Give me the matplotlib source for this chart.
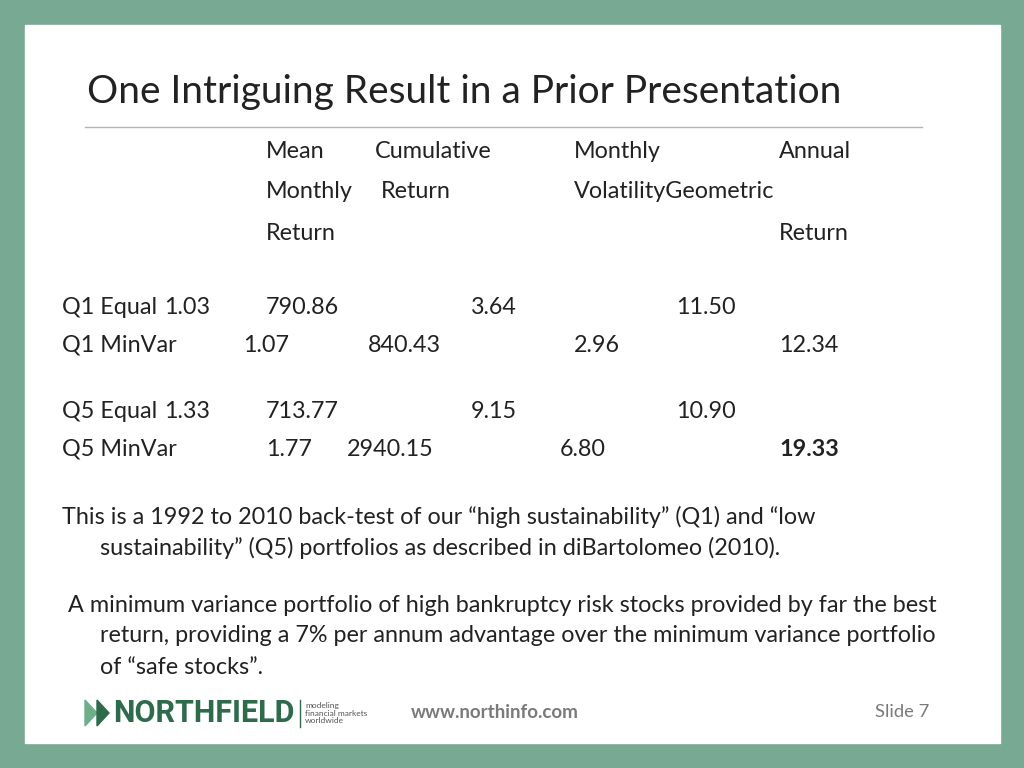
import matplotlib
matplotlib.use("Agg")
import matplotlib.pyplot as plt
from matplotlib.patches import Rectangle, Polygon

title = "One Intriguing Result in a Prior Presentation"
headers = [("Mean", 266, 151), ("Cumulative", 375, 151), ("Monthly", 574, 151), ("Annual", 779, 151),
           ("Monthly", 266, 192), ("Return", 381, 192), ("VolatilityGeometric", 574, 192),
           ("Return", 266, 233), ("Return", 779, 233)]
row_labels = ["Q1 Equal", "Q1 MinVar", "Q5 Equal", "Q5 MinVar"]
mean_monthly = ["1.03", "1.07", "1.33", "1.77"]
cumulative = ["790.86", "840.43", "713.77", "2940.15"]
volatility = ["3.64", "2.96", "9.15", "6.80"]
annual_geo = ["11.50", "12.34", "10.90", "19.33"]
row_y = [308, 345, 412, 449]
col_x = [[164, 266, 471, 676], [243, 368, 574, 779], [164, 266, 471, 676], [266, 347, 560, 779]]
paras = [("This is a 1992 to 2010 back-test of our \u201chigh sustainability\u201d (Q1) and \u201clow", 62, 517),
         ("sustainability\u201d (Q5) portfolios as described in diBartolomeo (2010).", 100, 548),
         ("A minimum variance portfolio of high bankruptcy risk stocks provided by far the best", 68, 605),
         ("return, providing a 7% per annum advantage over the minimum variance portfolio", 100, 636),
         ("of \u201csafe stocks\u201d.", 100, 667)]

W, H = 1024, 768
fig = plt.figure(figsize=(10.24, 7.68), dpi=100)
fig.patch.set_facecolor("#78a993")
ax = fig.add_axes([0, 0, 1, 1])
ax.set_xlim(0, W); ax.set_ylim(H, 0); ax.axis("off")
ax.add_patch(Rectangle((25, 25), 975, 718, color="white"))
F = "Lato"
c = "#222222"
fs = 16.8
ax.text(87, 92, title, fontsize=28, family=F, color=c, va="center")
ax.plot([85, 922], [127, 127], color="#b0b8b4", lw=1)
for t, x, y in headers:
    ax.text(x, y, t, fontsize=fs, family=F, color=c, va="center")
vals = list(zip(mean_monthly, cumulative, volatility, annual_geo))
for i, lab in enumerate(row_labels):
    ax.text(62, row_y[i], lab, fontsize=fs, family=F, color=c, va="center")
    for j, v in enumerate(vals[i]):
        bold = (i == 3 and j == 3)
        ax.text(col_x[i][j], row_y[i], v, fontsize=fs, family=F, color=c, va="center",
                weight="bold" if bold else "normal")
for t, x, y in paras:
    ax.text(x, y, t, fontsize=fs, family=F, color=c, va="center")
# logo
g = "#2e6b4a"
ax.add_patch(Polygon([(85, 700), (97, 713), (85, 726)], color="#6fae8a"))
ax.add_patch(Polygon([(97, 700), (109, 713), (97, 726)], color=g))
ax.text(113, 713, "NORTHFIELD", fontsize=22, family="Roboto", weight="bold", color=g, va="center")
ax.plot([300, 300], [700, 727], color=g, lw=1)
ax.text(305, 713, "modeling\nfinancial markets\nworldwide", fontsize=6, family=F, color="#555555", va="center", linespacing=1.1)
ax.text(411, 712, "www.northinfo.com", fontsize=13.5, family=F, weight="bold", color="#7a7a7a", va="center")
ax.text(875, 712, "Slide 7", fontsize=13.2, family=F, color="#7a7a7a", va="center")
fig.savefig("out.png", dpi=100, facecolor=fig.get_facecolor())
